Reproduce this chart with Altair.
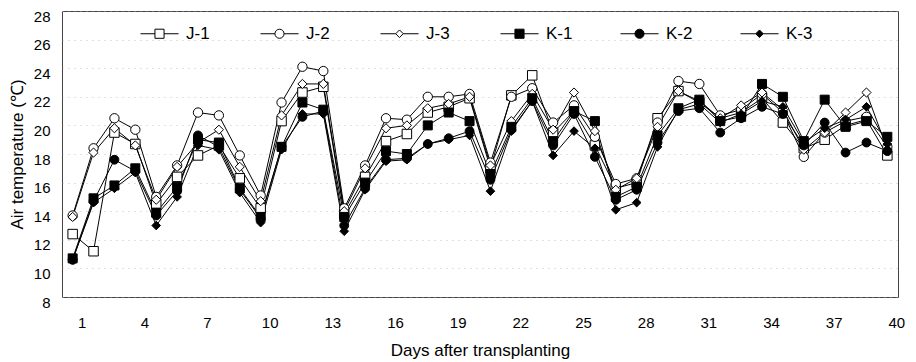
import altair as alt
import pandas as pd

days = list(range(1, 41))
series_names = ["J-1", "J-2", "J-3", "K-1", "K-2", "K-3"]

j1 = [12.4, 11.2, 19.5, 18.7, 14.5, 16.4, 17.9, 18.6, 16.3, 14.2,
      20.3, 22.3, 22.7, 13.8, 16.4, 18.9, 19.4, 20.9, 21.3, 21.9,
      17.0, 22.1, 23.5, 19.5, 21.0, 18.6, 15.6, 16.0, 20.5, 22.4,
      21.6, 20.5, 20.9, 21.9, 20.2, 18.4, 19.0, 20.0, 20.4, 17.9]
j2 = [13.7, 18.4, 20.5, 19.7, 15.0, 17.2, 20.9, 20.7, 17.9, 15.1,
      21.6, 24.1, 23.8, 14.2, 17.2, 20.5, 20.4, 22.0, 22.0, 22.2,
      17.4, 22.0, 22.6, 20.2, 21.4, 19.2, 15.9, 16.3, 20.2, 23.1,
      22.9, 20.7, 21.1, 22.2, 20.9, 17.8, 19.5, 20.3, 20.6, 18.5]
j3 = [13.6, 18.1, 19.8, 18.6, 14.8, 17.1, 18.8, 19.7, 17.1, 14.7,
      20.7, 22.9, 22.9, 14.0, 17.0, 19.8, 20.0, 21.2, 21.5, 22.0,
      17.2, 20.3, 22.2, 19.7, 22.3, 19.6, 15.5, 16.3, 19.9, 22.4,
      21.7, 20.5, 21.4, 22.3, 21.1, 18.3, 19.5, 20.9, 22.3, 18.3]
k1 = [10.7, 14.9, 15.8, 17.0, 13.9, 15.7, 19.0, 18.8, 15.6, 13.6,
      18.5, 21.6, 21.1, 13.6, 16.0, 18.2, 18.0, 20.0, 20.9, 20.3,
      16.6, 19.9, 21.9, 18.9, 21.0, 20.3, 15.0, 15.7, 19.3, 21.2,
      21.8, 20.3, 20.6, 22.9, 22.0, 18.9, 21.8, 19.9, 20.3, 19.2]
k2 = [10.6, 14.7, 17.6, 16.8, 13.7, 15.4, 19.3, 18.5, 15.5, 13.5,
      18.5, 20.6, 21.0, 13.0, 15.6, 17.6, 17.7, 18.7, 19.1, 19.6,
      16.2, 19.7, 21.7, 18.6, 20.8, 17.8, 14.8, 15.5, 18.8, 21.0,
      21.2, 19.5, 20.5, 21.3, 20.8, 18.6, 20.2, 18.1, 18.8, 18.2]
k3 = [10.6, 14.6, 15.6, 16.7, 13.0, 15.0, 18.6, 18.3, 15.3, 13.2,
      18.3, 20.8, 20.8, 12.6, 15.5, 17.5, 17.6, 18.7, 19.0, 19.3,
      15.4, 19.6, 21.7, 17.9, 19.6, 18.4, 14.1, 14.6, 18.5, 21.1,
      21.5, 20.2, 20.8, 21.7, 21.3, 18.8, 19.8, 20.4, 21.3, 18.7]

x_ticks = list(range(1, 41, 3))
y_ticks = list(range(8, 29, 2))

rows = []
for name, vals in zip(series_names, [j1, j2, j3, k1, k2, k3]):
    for d, v in zip(days, vals):
        rows.append({"day": d, "series": name, "temp": v})
df = pd.DataFrame(rows)

# hidden (clipped) rows that only feed the legend
leg_df = pd.DataFrame({"series": series_names, "day": [20] * 6, "temp": [2.0] * 6})

FONT = "Liberation Sans"

x = alt.X("day:Q",
          scale=alt.Scale(domain=[0.49, 40.51], nice=False, zero=False),
          axis=alt.Axis(values=x_ticks, title="Days after transplanting",
                        grid=False, labelPadding=18, labelOffset=9, titlePadding=12,
                        labelFlush=False))
y = alt.Y("temp:Q",
          scale=alt.Scale(domain=[8, 28], nice=False, zero=False),
          axis=alt.Axis(values=y_ticks, title="Air temperature (\u2103)",
                        grid=True, gridColor="#aaaaaa", gridDash=[1, 5],
                        gridOpacity=0.7, labelPadding=12, labelOffset=5,
                        titlePadding=7, labelFlush=False))

sw_range = [1, 1, 1, 2.6, 2.6, 2.6]
fill_range = ["white", "white", "white", "black", "black", "black"]

lines = alt.Chart(df).mark_line(color="black").encode(
    x=x, y=y, detail="series:N",
    strokeWidth=alt.StrokeWidth("series:N",
                                scale=alt.Scale(domain=series_names, range=sw_range),
                                legend=None),
)

points = alt.Chart(df).mark_point(filled=True, stroke="black", strokeWidth=1, opacity=1).encode(
    x=x, y=y,
    shape=alt.Shape("series:N",
                    scale=alt.Scale(domain=series_names,
                                    range=["square", "circle", "diamond",
                                           "square", "circle", "diamond"]),
                    legend=None),
    fill=alt.Fill("series:N",
                  scale=alt.Scale(domain=series_names, range=fill_range),
                  legend=None),
    size=alt.Size("series:N",
                  scale=alt.Scale(domain=series_names, range=[90, 75, 60, 90, 80, 75]),
                  legend=None),
)

# legend symbols: line segment with marker in the middle
sq = "M-1,0H-0.24M0.24,0H1M-0.24,-0.24H0.24V0.24H-0.24Z"
ci = ("M-1,0H-0.24M0.24,0H1"
      "M0.24,0C0.24,0.1325,0.1325,0.24,0,0.24"
      "C-0.1325,0.24,-0.24,0.1325,-0.24,0"
      "C-0.24,-0.1325,-0.1325,-0.24,0,-0.24"
      "C0.1325,-0.24,0.24,-0.1325,0.24,0Z")
di = "M-1,0H-0.2M0.2,0H1M-0.2,0L0,-0.2L0.2,0L0,0.2Z"

leg = alt.Legend(title=None, orient="none", legendX=78, legendY=3,
                 direction="horizontal", columns=6, columnPadding=45,
                 gridAlign="all", symbolSize=1444, labelFontSize=17,
                 labelOffset=7, padding=0, symbolStrokeColor="black",
                 labelFont=FONT, labelColor="black", symbolOpacity=1)

legend_layer = alt.Chart(leg_df).mark_point(filled=True, clip=True,
                                            size=1444, opacity=1).encode(
    x=x, y=y,
    shape=alt.Shape("series:N",
                    scale=alt.Scale(domain=series_names, range=[sq, ci, di, sq, ci, di]),
                    legend=leg),
    fill=alt.Fill("series:N",
                  scale=alt.Scale(domain=series_names, range=fill_range),
                  legend=leg),
    stroke=alt.Stroke("series:N",
                      scale=alt.Scale(domain=series_names, range=["black"] * 6),
                      legend=leg),
    strokeWidth=alt.StrokeWidth("series:N",
                                scale=alt.Scale(domain=series_names, range=sw_range),
                                legend=leg),
)

chart = alt.layer(lines, points, legend_layer).resolve_scale(
    shape="independent", fill="independent", size="independent",
    strokeWidth="independent", stroke="independent"
).properties(
    width=836, height=286,
    autosize=alt.AutoSizeParams(type="none"),
    padding={"left": 54, "top": 3, "right": 10, "bottom": 62},
    background="white",
).configure_view(
    stroke="#444444", strokeWidth=1
).configure_axis(
    labelFont=FONT, titleFont=FONT, labelColor="black", titleColor="black",
    titleFontWeight="normal", ticks=False, domain=False,
    labelFontSize=15, titleFontSize=17,
)

chart.save("out.html", embed_options={"renderer": "svg", "actions": False})
